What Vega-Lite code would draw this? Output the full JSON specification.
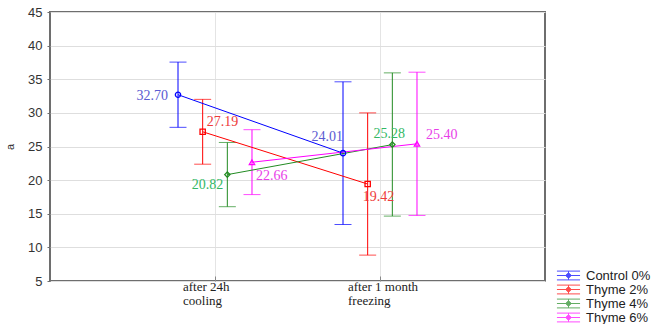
{
  "$schema": "https://vega.github.io/schema/vega-lite/v6.json",
  "autosize": {"type": "none"},
  "padding": {"left": 50, "top": 12, "right": 109, "bottom": 43},
  "width": 495,
  "height": 269,
  "background": "white",
  "config": {
    "view": {"stroke": "#6e6e6e", "strokeWidth": 2},
    "axis": {"domain": false, "gridColor": "#dedede", "gridWidth": 1, "tickColor": "#6e6e6e"}
  },
  "data": {
    "values": [
      {"time": "after 24h cooling", "series": "Control 0%", "mean": 32.70, "lo": 27.85, "hi": 37.55},
      {"time": "after 24h cooling", "series": "Thyme 2%", "mean": 27.19, "lo": 22.37, "hi": 32.01},
      {"time": "after 24h cooling", "series": "Thyme 4%", "mean": 20.82, "lo": 16.05, "hi": 25.60},
      {"time": "after 24h cooling", "series": "Thyme 6%", "mean": 22.66, "lo": 17.85, "hi": 27.50},
      {"time": "after 1 month freezing", "series": "Control 0%", "mean": 24.01, "lo": 13.40, "hi": 34.62},
      {"time": "after 1 month freezing", "series": "Thyme 2%", "mean": 19.42, "lo": 8.85, "hi": 30.00},
      {"time": "after 1 month freezing", "series": "Thyme 4%", "mean": 25.28, "lo": 14.65, "hi": 35.95},
      {"time": "after 1 month freezing", "series": "Thyme 6%", "mean": 25.40, "lo": 14.75, "hi": 36.05}
    ]
  },
  "encoding": {
    "x": {
      "field": "time", "type": "nominal",
      "sort": ["after 24h cooling", "after 1 month freezing"],
      "scale": {"type": "band", "paddingInner": 0, "paddingOuter": 0.5},
      "axis": {
        "title": null, "labelAngle": 0, "labelAlign": "left", "labelOffset": -32,
        "labelExpr": "datum.value == 'after 24h cooling' ? ['after 24h', 'cooling'] : ['after 1 month', 'freezing']",
        "labelFont": "Liberation Serif", "labelFontSize": 13, "labelColor": "#222",
        "labelLineHeight": 14, "labelPadding": 4,
        "tickSize": -5, "tickColor": "#888", "grid": true, "gridColor": "#e4e4e4"
      }
    },
    "xOffset": {
      "field": "series", "type": "nominal",
      "scale": {"type": "band", "domain": ["_a", "Control 0%", "Thyme 2%", "Thyme 4%", "Thyme 6%", "_b"], "paddingInner": 0, "paddingOuter": 0.345}
    },
    "y": {
      "field": "mean", "type": "quantitative",
      "scale": {"domain": [5, 45], "nice": false, "zero": false},
      "axis": {
        "title": "a", "titleFont": "Liberation Sans", "titleFontSize": 11, "titleFontWeight": "normal",
        "titleColor": "#333", "titlePadding": 12,
        "values": [5, 10, 15, 20, 25, 30, 35, 40, 45],
        "labelFont": "Liberation Sans", "labelFontSize": 13, "labelColor": "#333",
        "tickSize": 3, "labelPadding": 5, "grid": true
      }
    }
  },
  "layer": [
    {
      "mark": {"type": "rule", "strokeWidth": 1},
      "encoding": {
        "y": {"field": "lo", "type": "quantitative"},
        "y2": {"field": "hi"},
        "color": {"field": "series", "type": "nominal",
          "scale": {"domain": ["Control 0%", "Thyme 2%", "Thyme 4%", "Thyme 6%"], "range": ["#0000ff", "#ff0000", "#228b22", "#ff00ff"]},
          "legend": {
            "orient": "none", "legendX": 512, "legendY": 257, "title": null,
            "symbolType": "M-2.1,-0.8H2.1M-2.1,0H2.1M-2.1,0.8H2.1M0,-0.8V0.8M0.4,0A0.4,0.4 0 1,1 -0.4,0A0.4,0.4 0 1,1 0.4,0",
            "symbolSize": 121, "symbolStrokeWidth": 1, "symbolFillColor": "transparent",
            "labelFont": "Liberation Sans", "labelFontSize": 13, "labelColor": "#222",
            "rowPadding": -2, "labelOffset": 11
          }
        }
      }
    },
    {
      "mark": {"type": "tick", "thickness": 1, "size": 17},
      "encoding": {"y": {"field": "hi", "type": "quantitative"}, "color": {"field": "series", "type": "nominal"}}
    },
    {
      "mark": {"type": "tick", "thickness": 1, "size": 17},
      "encoding": {"y": {"field": "lo", "type": "quantitative"}, "color": {"field": "series", "type": "nominal"}}
    },
    {
      "mark": {"type": "line", "strokeWidth": 1},
      "encoding": {"color": {"field": "series", "type": "nominal"}, "detail": {"field": "series"}}
    },
    {
      "transform": [{"filter": "datum.series == 'Control 0%'"}],
      "mark": {"type": "point", "shape": "circle", "filled": false, "size": 28, "strokeWidth": 1.3, "opacity": 1, "color": "#0000ff"}
    },
    {
      "transform": [{"filter": "datum.series == 'Thyme 2%'"}],
      "mark": {"type": "point", "shape": "square", "filled": false, "size": 28, "strokeWidth": 1.3, "opacity": 1, "color": "#ff0000"}
    },
    {
      "transform": [{"filter": "datum.series == 'Thyme 4%'"}],
      "mark": {"type": "point", "shape": "diamond", "filled": false, "size": 28, "strokeWidth": 1.3, "opacity": 1, "color": "#228b22"}
    },
    {
      "transform": [{"filter": "datum.series == 'Thyme 6%'"}],
      "mark": {"type": "point", "shape": "triangle-up", "filled": false, "size": 28, "strokeWidth": 1.3, "opacity": 1, "color": "#ff00ff"}
    },
    {
      "transform": [{"filter": "datum.series == 'Control 0%' && datum.time == 'after 24h cooling'"}],
      "mark": {"type": "text", "align": "right", "baseline": "middle", "dx": -10, "dy": 1, "font": "Liberation Serif", "fontSize": 14, "color": "#5a5ad2"},
      "encoding": {"text": {"field": "mean", "format": ".2f"}}
    },
    {
      "transform": [{"filter": "datum.series == 'Thyme 2%' && datum.time == 'after 24h cooling'"}],
      "mark": {"type": "text", "align": "left", "baseline": "middle", "dx": 4, "dy": -10, "font": "Liberation Serif", "fontSize": 14, "color": "#ee3b3b"},
      "encoding": {"text": {"field": "mean", "format": ".2f"}}
    },
    {
      "transform": [{"filter": "datum.series == 'Thyme 4%' && datum.time == 'after 24h cooling'"}],
      "mark": {"type": "text", "align": "right", "baseline": "middle", "dx": -4, "dy": 10, "font": "Liberation Serif", "fontSize": 14, "color": "#32b864"},
      "encoding": {"text": {"field": "mean", "format": ".2f"}}
    },
    {
      "transform": [{"filter": "datum.series == 'Thyme 6%' && datum.time == 'after 24h cooling'"}],
      "mark": {"type": "text", "align": "left", "baseline": "middle", "dx": 4, "dy": 14, "font": "Liberation Serif", "fontSize": 14, "color": "#e83ee8"},
      "encoding": {"text": {"field": "mean", "format": ".2f"}}
    },
    {
      "transform": [{"filter": "datum.series == 'Control 0%' && datum.time == 'after 1 month freezing'"}],
      "mark": {"type": "text", "align": "right", "baseline": "middle", "dx": 0, "dy": -16, "font": "Liberation Serif", "fontSize": 14, "color": "#5a5ad2"},
      "encoding": {"text": {"field": "mean", "format": ".2f"}}
    },
    {
      "transform": [{"filter": "datum.series == 'Thyme 2%' && datum.time == 'after 1 month freezing'"}],
      "mark": {"type": "text", "align": "left", "baseline": "middle", "dx": -5, "dy": 13, "font": "Liberation Serif", "fontSize": 14, "color": "#ee3b3b"},
      "encoding": {"text": {"field": "mean", "format": ".2f"}}
    },
    {
      "transform": [{"filter": "datum.series == 'Thyme 4%' && datum.time == 'after 1 month freezing'"}],
      "mark": {"type": "text", "align": "center", "baseline": "middle", "dx": -3, "dy": -11, "font": "Liberation Serif", "fontSize": 14, "color": "#32b864"},
      "encoding": {"text": {"field": "mean", "format": ".2f"}}
    },
    {
      "transform": [{"filter": "datum.series == 'Thyme 6%' && datum.time == 'after 1 month freezing'"}],
      "mark": {"type": "text", "align": "left", "baseline": "middle", "dx": 9, "dy": -9, "font": "Liberation Serif", "fontSize": 14, "color": "#e83ee8"},
      "encoding": {"text": {"field": "mean", "format": ".2f"}}
    }
  ]
}
